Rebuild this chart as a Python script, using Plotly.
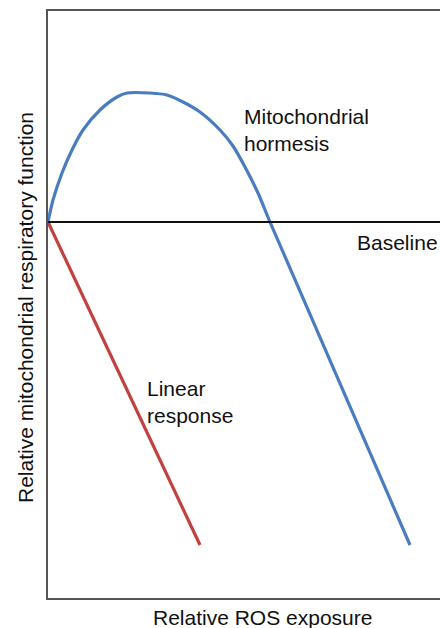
import plotly.graph_objects as go

# Relative ROS exposure (x) vs relative respiratory function (y), baseline = 0
hormesis_x = [0, 5, 14, 24, 35, 52, 69, 79, 102, 119, 135, 152, 172, 185, 197, 210, 222, 362]
hormesis_y = [0, 22, 49, 72, 92, 112, 125, 129, 129, 127, 120, 110, 92, 76, 55, 29, 0, -323]
linear_x = [0, 152]
linear_y = [0, -323]
baseline_y = 0

FONT = "Liberation Sans, Arial, sans-serif"
fig = go.Figure()
fig.add_trace(go.Scatter(x=hormesis_x, y=hormesis_y, mode="lines",
                         line=dict(color="#4a7dbd", width=3.2, shape="spline", smoothing=0.8),
                         hoverinfo="skip", showlegend=False, cliponaxis=False))
fig.add_trace(go.Scatter(x=linear_x, y=linear_y, mode="lines",
                         line=dict(color="#c0413f", width=3.2),
                         hoverinfo="skip", showlegend=False, cliponaxis=False))
fig.add_shape(type="line", xref="paper", yref="y", x0=0, x1=1, y0=baseline_y, y1=baseline_y,
              line=dict(color="#111111", width=2))

ann = dict(showarrow=False, font=dict(family=FONT, size=21, color="#111111"), align="left")
fig.add_annotation(x=194, y=92, text="Mitochondrial<br>hormesis", xanchor="left", yanchor="middle", **ann)
fig.add_annotation(x=97, y=-180, text="Linear<br>response", xanchor="left", yanchor="middle", **ann)
fig.add_annotation(x=309, y=-20, xshift=-2, text="Baseline", xanchor="left", yanchor="middle", **ann)
fig.add_annotation(x=214, xref="x", y=0, yref="paper", yshift=-19, text="Relative ROS exposure",
                   xanchor="center", yanchor="middle", **ann)
fig.add_annotation(x=0, xref="paper", xshift=-23, y=-86, yref="y", textangle=-90,
                   text="Relative mitochondrial respiratory function",
                   xanchor="center", yanchor="middle", **ann)

fig.update_layout(width=440, height=628, margin=dict(l=48, r=0, t=11, b=30),
                  paper_bgcolor="white", plot_bgcolor="white",
                  font=dict(family=FONT), hovermode=False, dragmode=False)
fig.update_xaxes(range=[0, 392], showline=True, mirror=True, linecolor="#555555", linewidth=2,
                 showgrid=False, zeroline=False, showticklabels=False, ticks="")
fig.update_yaxes(range=[-376, 211], showline=True, mirror=False, linecolor="#555555", linewidth=2,
                 showgrid=False, zeroline=False, showticklabels=False, ticks="")
fig.write_html("out.html", config={"displayModeBar": False, "staticPlot": True},
               post_script="document.body.style.margin='0';document.body.style.overflow='hidden';")
